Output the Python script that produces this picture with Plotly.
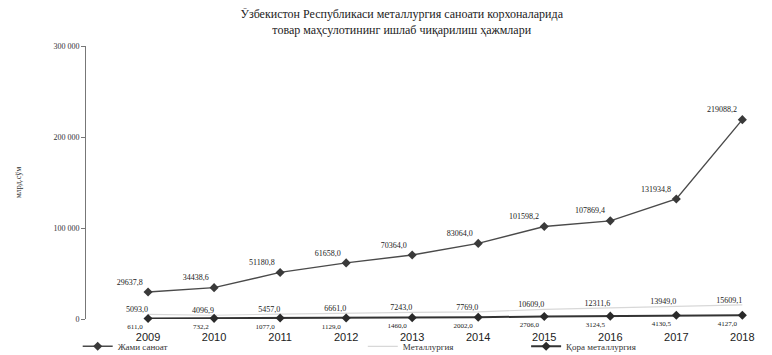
import plotly.graph_objects as go

years = ["2009", "2010", "2011", "2012", "2013", "2014", "2015", "2016", "2017", "2018"]
total_industry = [29637.8, 34438.6, 51180.8, 61658.0, 70364.0, 83064.0, 101598.2, 107869.4, 131934.8, 219088.2]
metallurgy = [5093.0, 4096.9, 5457.0, 6661.0, 7243.0, 7769.0, 10609.0, 12311.6, 13949.0, 15609.1]
ferrous = [611.0, 732.2, 1077.0, 1129.0, 1460.0, 2002.0, 2706.0, 3124.5, 4130.5, 4127.0]

y_ticks = [0, 100000, 200000, 300000]

font = "Liberation Serif"

fig = go.Figure()
fig.add_trace(go.Scatter(
    x=years, y=total_industry, name="Жами саноат", mode="lines+markers+text",
    line=dict(color="#4a4a4a", width=1.4),
    marker=dict(symbol="diamond", size=7, color="#3a3a3a"),
    texttemplate="%{y:.1f}", textposition="top left",
    textfont=dict(size=8, color="#222222", family=font),
    cliponaxis=False, legend="legend",
))
fig.add_trace(go.Scatter(
    x=years, y=metallurgy, name="Металлургия", mode="lines+text",
    line=dict(color="#d8d8d8", width=1.2),
    texttemplate="%{y:.1f}", textposition="top left",
    textfont=dict(size=8, color="#222222", family=font),
    cliponaxis=False, legend="legend2",
))
fig.add_trace(go.Scatter(
    x=years, y=ferrous, name="Қора металлургия", mode="lines+markers+text",
    line=dict(color="#333333", width=2),
    marker=dict(symbol="diamond", size=7, color="#2a2a2a"),
    texttemplate="%{y:.1f}", textposition="bottom left",
    textfont=dict(size=7, color="#222222", family=font),
    cliponaxis=False, legend="legend3",
))

legend_common = dict(orientation="h", yanchor="middle", y=-0.1, xanchor="left",
                     font=dict(size=9, color="#333", family=font), bgcolor="rgba(0,0,0,0)")

fig.update_layout(
    width=772, height=355,
    margin=dict(l=78, r=2, t=38, b=32),
    paper_bgcolor="white", plot_bgcolor="white",
    separators=", ",
    title=dict(
        text="Ўзбекистон Республикаси металлургия саноати корхоналарида<br>товар маҳсулотининг ишлаб чиқарилиш ҳажмлари",
        x=0.51, xanchor="center", yref="container", y=0.971, yanchor="middle",
        font=dict(size=12, color="#222", family=font),
    ),
    xaxis=dict(
        type="category", range=[-0.94, 9.54], showgrid=False, showline=False,
        zeroline=False, ticks="", ticklabelstandoff=10,
        tickfont=dict(size=11, color="#222", family="Liberation Sans"),
    ),
    yaxis=dict(
        range=[0, 300000], tickvals=y_ticks, tickformat=",d",
        showgrid=False, zeroline=False, showline=True, linecolor="#777", linewidth=1,
        ticks="outside", ticklen=4, tickcolor="#777",
        tickfont=dict(size=8, color="#333", family=font),
        title=dict(text="млрд.сўм", standoff=30, font=dict(size=8, color="#333", family=font)),
    ),
    legend=dict(x=-0.012, **legend_common),
    legend2=dict(x=0.40, **legend_common),
    legend3=dict(x=0.636, **legend_common),
    showlegend=True,
)

fig.write_html("out.html")
